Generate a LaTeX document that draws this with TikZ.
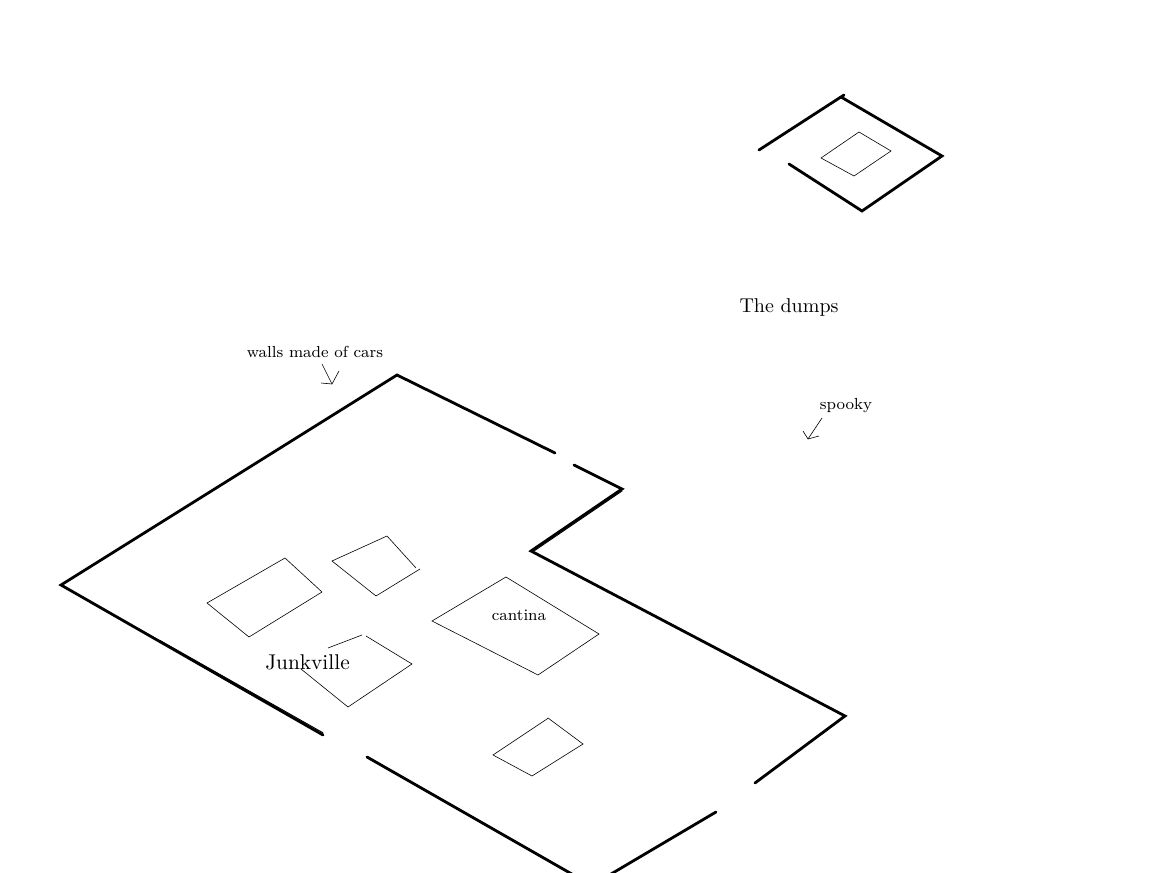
\documentclass[tikz,border=0pt]{standalone}
\tikzset{
  wall/.style={line width=2.1pt,line cap=round,line join=miter},
  wallthin/.style={line width=0.7pt,line cap=round},
  house/.style={line width=0.45pt,line join=miter},
  pointer/.style={line width=0.45pt},
  bigtext/.style={font=\normalsize,inner sep=0pt,scale=1.6,transform shape},
  dumptext/.style={font=\normalsize,inner sep=0pt,scale=1.5,transform shape},
  smalltext/.style={font=\footnotesize,inner sep=0pt,scale=1.5,transform shape}
}
\begin{document}
\begin{tikzpicture}[x=0.75pt,y=-0.75pt]
\useasboundingbox (0,0) rectangle (1172,873);
\clip (0,0) rectangle (1172,873);
% town walls
\draw[wall] (555,453) -- (397,375) -- (61,585) -- (323,735);
\draw[wallthin] (160,640.5) -- (323,732.8);
\draw[wall] (367,757) -- (577,877);
\draw[wall] (606,877) -- (716,812);
\draw[wall] (755,783) -- (845,716) -- (531,551) -- (622,489) -- (574,465);
\draw[wallthin] (534,551) -- (622,491);
% houses
\draw[house] (207,603) -- (285,558) -- (322,592) -- (249,637) -- cycle;
\draw[house] (416,568) -- (387,536) -- (332,561) -- (376,596) -- (420,569);
\draw[house] (328,648) -- (362,635);
\draw[house] (366,636) -- (412,664) -- (348,707) -- (301,669);
\draw[house] (432,621) -- (506,577) -- (599,634) -- (538,675) -- cycle;
\draw[house] (548,718) -- (547,719) -- (493,755) -- (532,776) -- (583,744) -- cycle;
% dumps
\draw[wall] (759,150) -- (844,95);
\draw[wall] (841,97) -- (942,156) -- (862,211) -- (789,164);
\draw[house] (821,158) -- (859,132) -- (891,151) -- (854,176) -- cycle;
% labels
\node[smalltext] (walls) at (315,352) {walls made of cars};
\node[smalltext] (spooky) at (846,405.5) {spooky};
\node[dumptext] (dumps) at (789,307.5) {The dumps};
\node[bigtext] (junk) at (307.5,662) {Junkville};
\node[smalltext] (cantina) at (519,615) {cantina};
% pointers
\coordinate (wtip) at (332,384);
\coordinate (stip) at (808,439);
\draw[pointer] (322,364) -- (wtip);
\draw[pointer] (321,383) -- (wtip) -- (339,371);
\draw[pointer] (822,418) -- (stip);
\draw[pointer] (803,431) -- (stip) -- (819,436);
\end{tikzpicture}
\end{document}
